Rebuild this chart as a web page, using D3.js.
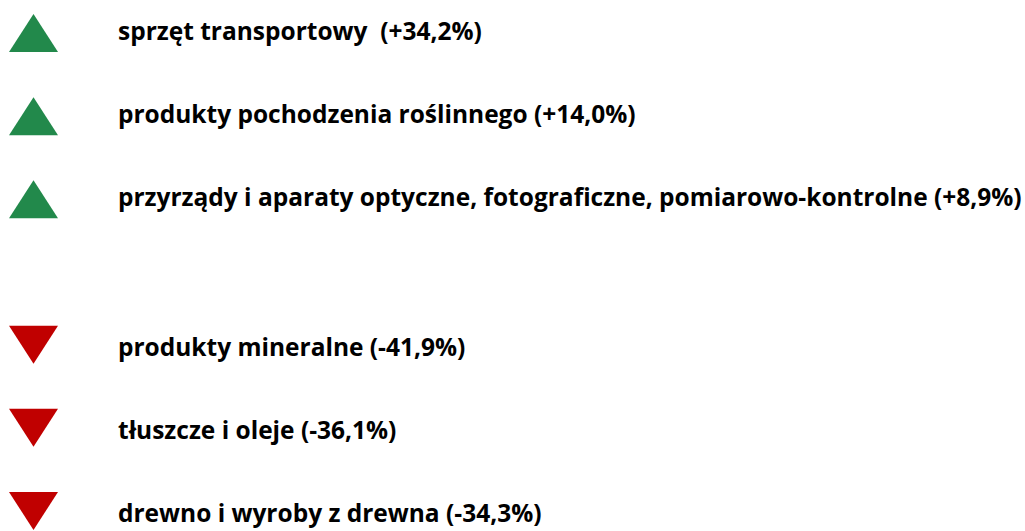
<!DOCTYPE html>
<html>
<head>
<meta charset="utf-8">
<script src="https://cdn.jsdelivr.net/npm/d3@7"></script>
<style>
  body { margin: 0; background: #fff; }
</style>
</head>
<body>
<div id="chart"></div>
<script>
// biggest changes, increases first then decreases
const increaseLabels = ['sprzęt transportowy ', 'produkty pochodzenia roślinnego', 'przyrządy i aparaty optyczne, fotograficzne, pomiarowo-kontrolne'];
const increaseValues = [34.2, 14.0, 8.9];
const decreaseLabels = ['produkty mineralne', 'tłuszcze i oleje', 'drewno i wyroby z drewna'];
const decreaseValues = [-41.9, -36.1, -34.3];

const width = 1025,
      height = 531;

const fmt = v => (v > 0 ? '+' : '') + v.toFixed(1).replace('.', ',') + '%';

const rows = increaseLabels.map((l, i) => ({ label: l, value: increaseValues[i] }))
  .concat(decreaseLabels.map((l, i) => ({ label: l, value: decreaseValues[i] })));

// slot index, with an extra gap between the two groups
const gap = 0.75;
const slot = (d, i) => i + (d.value < 0 ? gap : 0);

const y = d3.scaleLinear().domain([0, 5 + gap]).range([33, 511]);

const svg = d3.select('#chart').append('svg')
    .attr('width', width)
    .attr('height', height);

const triW = 49, triH = 38;
const up = d3.line()([[-triW / 2, triH / 2], [triW / 2, triH / 2], [0, -triH / 2]]) + 'Z';
const down = d3.line()([[-triW / 2, -triH / 2], [triW / 2, -triH / 2], [0, triH / 2]]) + 'Z';

const row = svg.selectAll('g.row')
  .data(rows)
  .enter().append('g')
    .attr('class', 'row')
    .attr('transform', (d, i) => 'translate(0,' + y(slot(d, i)) + ')');

row.append('path')
    .attr('d', d => d.value > 0 ? up : down)
    .attr('transform', 'translate(33.5,0)')
    .style('fill', d => d.value > 0 ? '#22894b' : '#c00000');

const txt = row.append('text')
    .attr('x', 118)
    .attr('y', d => d.value > 0 ? 7 : 11)
    .style('font-family', '"Open Sans", sans-serif')
    .style('font-weight', 'bold')
    .style('font-size', '21px')
    .style('fill', '#000')
    .style('white-space', 'pre')
    .attr('xml:space', 'preserve')
    .text(d => d.label + ' (' + fmt(d.value) + ')');

// fit the longest label to the width used in the original
const longest = d3.max(txt.nodes(), n => n.getComputedTextLength());
txt.style('font-size', (21 * 904 / longest) + 'px');
</script>
</body>
</html>
